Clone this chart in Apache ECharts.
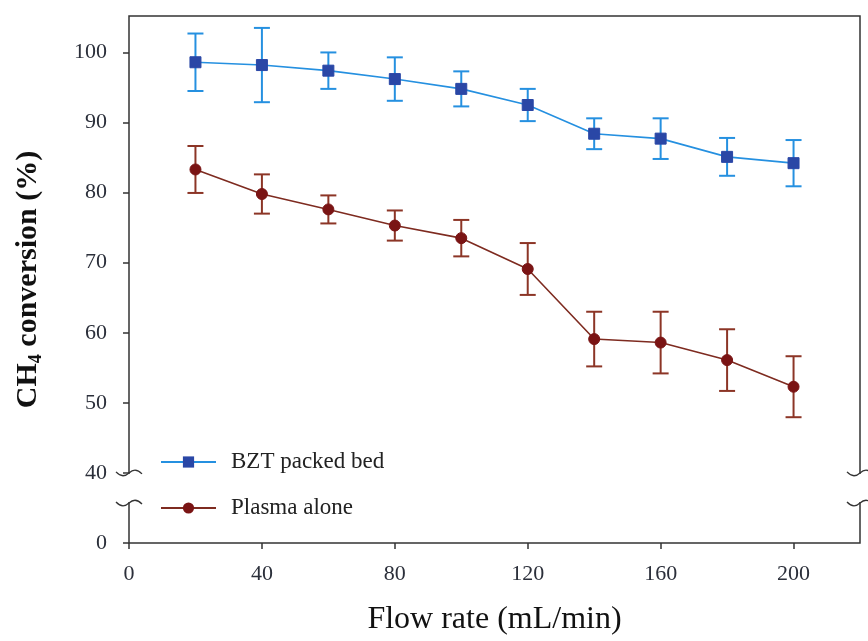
<!DOCTYPE html>
<html>
<head>
<meta charset="utf-8">
<script src="https://cdn.jsdelivr.net/npm/echarts@6/dist/echarts.min.js"></script>
<style>
html,body{margin:0;padding:0;background:#fff;}
#chart{width:868px;height:641px;}
</style>
</head>
<body>
<div id="chart"></div>
<script>
// ---- data ----
const flowRates = [20, 40, 60, 80, 100, 120, 140, 160, 180, 200];
const bztMean   = [98.6, 98.2, 97.4, 96.2, 94.8, 92.5, 88.4, 87.7, 85.1, 84.2];
const bztErr    = [4.1, 5.3, 2.6, 3.1, 2.5, 2.3, 2.2, 2.9, 2.7, 3.3];
const plasmaMean = [83.3, 79.8, 77.6, 75.3, 73.5, 69.1, 59.1, 58.6, 56.1, 52.3];
const plasmaErr  = [3.35, 2.8, 2.0, 2.15, 2.6, 3.7, 3.9, 4.4, 4.4, 4.35];
const xTickLabels = [0, 40, 80, 120, 160, 200];
const yTickLabels = [0, 40, 50, 60, 70, 80, 90, 100];
const seriesNames = ['BZT packed bed', 'Plasma alone'];

// broken axis: real 0 is drawn one step below 40
const ZERO_POS = 30;
const toAxis = v => (v === 0 ? ZERO_POS : v);
const fromAxis = v => (v === ZERO_POS ? 0 : v);

const FONT = '"Liberation Serif", "Times New Roman", serif';
const BLUE_LINE = '#2590e0', BLUE_MARK = '#2a47a6';
const RED_LINE = '#7e2b20', RED_BAR = '#8c3526', RED_MARK = '#7a1414';

function pts(mean) { return flowRates.map((x, i) => [x, mean[i]]); }
function bars(mean, err) { return flowRates.map((x, i) => [x, mean[i] - err[i], mean[i] + err[i]]); }

function errRender(color) {
  return function (params, api) {
    const x = api.value(0), lo = api.value(1), hi = api.value(2);
    const a = api.coord([x, hi]), b = api.coord([x, lo]);
    const w = 8;
    const st = { stroke: color, lineWidth: 2 };
    return {
      type: 'group',
      children: [
        { type: 'line', shape: { x1: a[0], y1: a[1], x2: b[0], y2: b[1] }, style: st },
        { type: 'line', shape: { x1: a[0] - w, y1: a[1], x2: a[0] + w, y2: a[1] }, style: st },
        { type: 'line', shape: { x1: b[0] - w, y1: b[1], x2: b[0] + w, y2: b[1] }, style: st }
      ]
    };
  };
}

const chart = echarts.init(document.getElementById('chart'));
const option = {
  animation: false,
  backgroundColor: '#fff',
  grid: { left: 129, top: 16, width: 731, height: 527, show: true, borderColor: '#333', borderWidth: 1.5, backgroundColor: 'transparent' },
  legend: {
    orient: 'vertical', left: 160, top: 449, padding: 0, itemWidth: 55, itemHeight: 14, itemGap: 20,
    data: seriesNames,
    textStyle: { fontFamily: FONT, fontSize: 23, color: '#222', lineHeight: 26, padding: [0, 0, 0, 10] }
  },
  xAxis: {
    type: 'value', min: 0, max: 220,
    name: 'Flow rate (mL/min)', nameLocation: 'middle', nameGap: 61,
    nameTextStyle: { fontFamily: FONT, fontSize: 32, color: '#111' },
    axisLine: { show: false },
    axisTick: { show: true, inside: false, length: 6, lineStyle: { color: '#333', width: 1.5 }, customValues: xTickLabels },
    axisLabel: { customValues: xTickLabels, margin: 20, fontFamily: FONT, fontSize: 22, color: '#2b2f3a' },
    splitLine: { show: false }
  },
  yAxis: {
    type: 'value', min: ZERO_POS, max: 105.2,
    name: '{b|CH}{s|4}{b| conversion (%)}', nameLocation: 'middle', nameGap: 84,
    nameTextStyle: {
      rich: {
        b: { fontFamily: FONT, fontSize: 30, fontWeight: 'bold', color: '#111', lineHeight: 34 },
        s: { fontFamily: FONT, fontSize: 18, fontWeight: 'bold', color: '#111', lineHeight: 16, verticalAlign: 'bottom' }
      }
    },
    axisLine: { show: false },
    axisTick: { show: true, inside: false, length: 6, lineStyle: { color: '#333', width: 1.5 }, customValues: yTickLabels.map(toAxis) },
    axisLabel: {
      customValues: yTickLabels.map(toAxis), margin: 22, fontFamily: FONT, fontSize: 22, color: '#2b2f3a',
      formatter: v => String(fromAxis(v))
    },
    splitLine: { show: false }
  },
  series: [
    { name: seriesNames[0] + ' err', type: 'custom', renderItem: errRender(BLUE_LINE), data: bars(bztMean, bztErr), encode: { x: 0, y: [1, 2] }, z: 2, silent: true },
    { name: seriesNames[1] + ' err', type: 'custom', renderItem: errRender(RED_BAR), data: bars(plasmaMean, plasmaErr), encode: { x: 0, y: [1, 2] }, z: 2, silent: true },
    { name: seriesNames[0], type: 'line', data: pts(bztMean), symbol: 'rect', symbolSize: 11, z: 3,
      lineStyle: { color: BLUE_LINE, width: 1.6 }, itemStyle: { color: BLUE_MARK, borderColor: BLUE_MARK } },
    { name: seriesNames[1], type: 'line', data: pts(plasmaMean), symbol: 'circle', symbolSize: 11, z: 3,
      lineStyle: { color: RED_LINE, width: 1.6 }, itemStyle: { color: RED_MARK, borderColor: RED_MARK } }
  ]
};
chart.setOption(option);

// axis break marks on left and right frame lines
const yTop = chart.convertToPixel({ gridIndex: 0 }, [0, 40])[1];
const yBot = chart.convertToPixel({ gridIndex: 0 }, [0, 35.7])[1];
const xL = chart.convertToPixel({ gridIndex: 0 }, [0, 40])[0];
const xR = chart.convertToPixel({ gridIndex: 0 }, [220, 40])[0];
const g = [];
[xL, xR].forEach(x => {
  g.push({ type: 'rect', z: 100, shape: { x: x - 4, y: yTop + 1, width: 8, height: yBot - yTop - 2 }, style: { fill: '#fff' } });
  [yTop, yBot].forEach(y => {
    g.push({ type: 'bezierCurve', z: 101, shape: { x1: x - 13, y1: y - 1, cpx1: x - 6.5, cpy1: y + 6, x2: x, y2: y }, style: { stroke: '#333', lineWidth: 1.3, fill: null } });
    g.push({ type: 'bezierCurve', z: 101, shape: { x1: x, y1: y, cpx1: x + 6.5, cpy1: y - 6, x2: x + 13, y2: y + 1 }, style: { stroke: '#333', lineWidth: 1.3, fill: null } });
  });
});
chart.setOption({ graphic: g });
</script>
</body>
</html>
